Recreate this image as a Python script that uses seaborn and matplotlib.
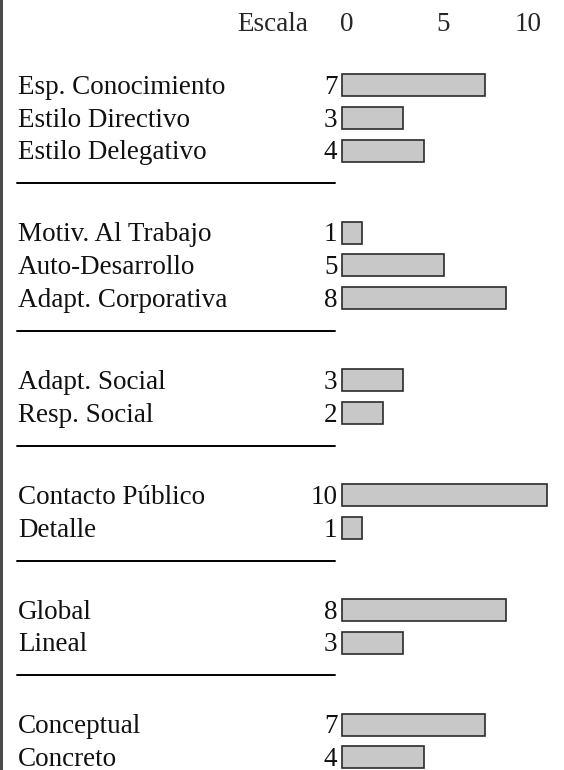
import pandas as pd
import seaborn as sns
import matplotlib.pyplot as plt

# datos del perfil
grupos = [
    ["Esp. Conocimiento", "Estilo Directivo", "Estilo Delegativo"],
    ["Motiv. Al Trabajo", "Auto-Desarrollo", "Adapt. Corporativa"],
    ["Adapt. Social", "Resp. Social"],
    ["Contacto Público", "Detalle"],
    ["Global", "Lineal"],
    ["Conceptual", "Concreto"],
]
valores = [
    [7, 3, 4],
    [1, 5, 8],
    [3, 2],
    [10, 1],
    [8, 3],
    [7, 4],
]
escala = [0, 5, 10]

# posiciones verticales: un hueco para la línea separadora entre grupos
filas = []
separadores = []
pos = 0.0
for g, (etiquetas, vals) in enumerate(zip(grupos, valores)):
    for et, v in zip(etiquetas, vals):
        filas.append({"factor": et, "valor": v, "pos": pos})
        pos += 1
    if g < len(grupos) - 1:
        separadores.append(pos)
        pos += 1.5
df = pd.DataFrame(filas)

sns.set_style("white")
plt.rcParams["font.family"] = ["Liberation Serif", "DejaVu Serif"]

fig = plt.figure(figsize=(5.64, 7.70), dpi=100)
ax = fig.add_axes([0, 0, 1, 1])

sns.barplot(data=df, x="valor", y="pos", orient="h", native_scale=True,
            color="#c8c8c8", edgecolor="#2b2b2b", linewidth=1.2,
            width=0.67, saturation=1, ax=ax)

ax.set_xlim(-342 / 20.5, (564 - 342) / 20.5)
ax.set_ylim((770 - 85) / 32.8, -85 / 32.8)
ax.axis("off")

fs = 19.5
off = 0.27  # línea base del texto respecto al centro de la barra
tr = ax.get_yaxis_transform()
for _, r in df.iterrows():
    ax.text(18 / 564, r["pos"] + off, r["factor"], transform=tr, ha="left",
            va="baseline", fontsize=fs, color="#111111")
    ax.text(-0.22, r["pos"] + off, str(r["valor"]), ha="right", va="baseline",
            fontsize=fs, color="#111111")

for s in separadores:
    ax.plot([17 / 564, 335 / 564], [s, s], transform=tr, color="black", lw=1.4)

# cabecera de escala
y_cab = -1.91 + off
ax.text(-1.65, y_cab, "Escala", ha="right", va="baseline", fontsize=fs)
for v, xt in zip(escala, [0.25, 4.95, 9.1]):
    ax.text(xt, y_cab, str(v), ha="center", va="baseline", fontsize=fs)

# borde izquierdo
ax.plot([0.002, 0.002], [0, 1], transform=ax.transAxes, color="#4a4a4a", lw=2.2,
        clip_on=False)

fig.savefig("out.png", dpi=100)
